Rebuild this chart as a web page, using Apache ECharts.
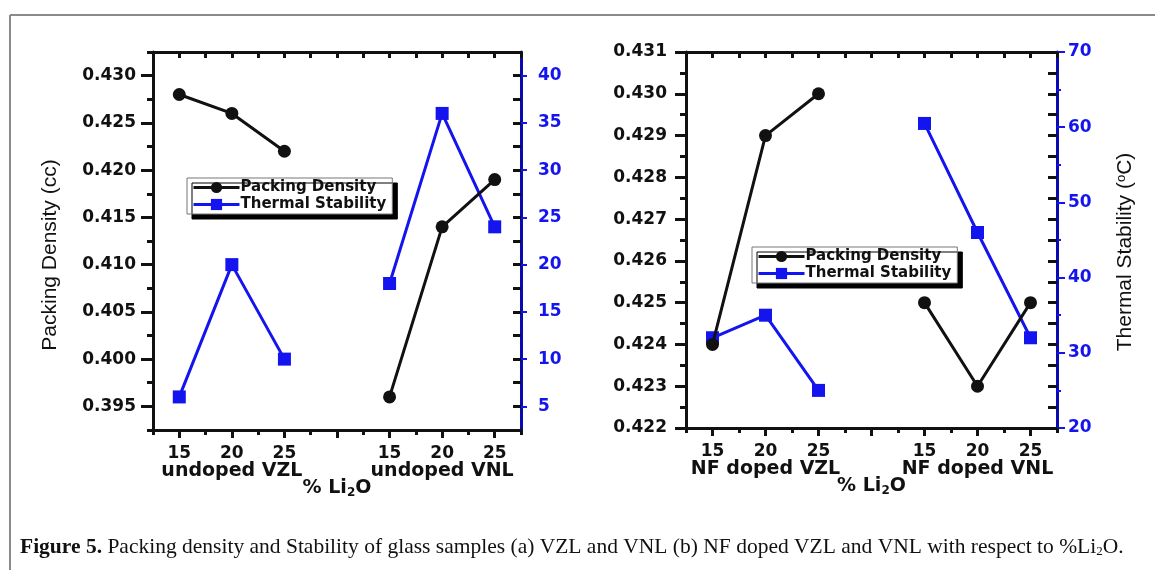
<!DOCTYPE html>
<html>
<head>
<meta charset="utf-8">
<script src="https://cdn.jsdelivr.net/npm/echarts@6/dist/echarts.min.js"></script>
<style>
html,body{margin:0;padding:0;background:#fff;}
#c{width:1155px;height:570px;}
</style>
</head>
<body>
<div id="c"></div>
<script>
// ---------- data ----------
const liContent = [15, 20, 25];                       // % Li2O tick labels per group
const leftGroups = ['undoped VZL', 'undoped VNL'];
const rightGroups = ['NF doped VZL', 'NF doped VNL'];
const seriesNames = ['Packing Density', 'Thermal Stability'];

const pdUndopedVZL = [0.428, 0.426, 0.422];
const pdUndopedVNL = [0.396, 0.414, 0.419];
const tsUndopedVZL = [6, 20, 10];
const tsUndopedVNL = [18, 36, 24];

const pdDopedVZL = [0.424, 0.429, 0.430];
const pdDopedVNL = [0.425, 0.423, 0.425];
const tsDopedVZL = [32, 35, 25];
const tsDopedVNL = [60.5, 46, 32];

const pdTicksLeft = [0.395, 0.400, 0.405, 0.410, 0.415, 0.420, 0.425, 0.430];
const tsTicksLeft = [5, 10, 15, 20, 25, 30, 35, 40];
const pdTicksRight = [0.422, 0.423, 0.424, 0.425, 0.426, 0.427, 0.428, 0.429, 0.430, 0.431];

// ---------- helpers ----------
const GROUP_SHIFT = 20; // second group drawn after a gap on the same value axis
function pairs(a, b) {
  const out = liContent.map((x, i) => [x, a[i]]);
  out.push([30, '-']);
  liContent.forEach((x, i) => out.push([x + GROUP_SHIFT, b[i]]));
  return out;
}
const BOLD = 'DejaVu Sans';
const BLACK = '#111';
const BLUE = '#1414ee';
const BLUE_AX = '#0a0ab4';

function xAxesFor(gridIndex, groups) {
  const majors = [15, 20, 25, 30, 35, 40, 45];
  const labelVals = liContent.concat(liContent.map(v => v + GROUP_SHIFT));
  const groupCenters = [liContent[1], liContent[1] + GROUP_SHIFT];
  return [
    { // main bottom axis: line, minor ticks, digit labels, axis name
      type: 'value', gridIndex, position: 'bottom', min: 12.5, max: 47.5, interval: 2.5,
      axisLine: { show: true, onZero: false, lineStyle: { color: BLACK, width: 3 } },
      axisTick: { show: true, length: 5, lineStyle: { color: BLACK, width: 3 } },
      splitLine: { show: false },
      axisLabel: {
        show: true, customValues: labelVals, margin: 15, color: BLACK,
        showMinLabel: true, showMaxLabel: true,
        fontFamily: BOLD, fontWeight: 'bold', fontSize: 17,
        formatter: function (v) {
          const r = Math.round(v);
          return String(r > 30 ? r - GROUP_SHIFT : r);
        }
      },
      name: '% Li{s|2}O', nameLocation: 'middle', nameGap: 47,
      nameTextStyle: {
        fontFamily: BOLD, fontWeight: 'bold', fontSize: 19, color: BLACK,
        rich: { s: { fontFamily: BOLD, fontWeight: 'bold', fontSize: 12, color: BLACK, padding: [10, 0, 0, 0] } }
      }
    },
    { // major tick overlay + group names
      type: 'value', gridIndex, position: 'bottom', min: 12.5, max: 47.5,
      axisLine: { show: false, onZero: false },
      axisTick: { show: true, customValues: majors, length: 8, lineStyle: { color: BLACK, width: 3 } },
      axisLabel: {
        show: true, customValues: groupCenters, margin: 32, color: BLACK,
        showMinLabel: true, showMaxLabel: true,
        fontFamily: BOLD, fontWeight: 'bold', fontSize: 19,
        formatter: function (v) { return Math.round(v) > 30 ? groups[1] : groups[0]; }
      },
      splitLine: { show: false }
    },
    { // top mirror
      type: 'value', gridIndex, position: 'top', min: 12.5, max: 47.5, interval: 2.5,
      axisLine: { show: true, onZero: false, lineStyle: { color: BLACK, width: 3 } },
      axisTick: { show: true, inside: true, length: 6, lineStyle: { color: BLACK, width: 3 } },
      axisLabel: { show: false }, splitLine: { show: false }
    }
  ];
}

const labelBold = { fontFamily: BOLD, fontWeight: 'bold', fontSize: 17, showMinLabel: true, showMaxLabel: true };

const yAxes = [
  // ----- left chart (grid 0) -----
  { type: 'value', gridIndex: 0, position: 'left', min: 0.3925, max: 0.4325, interval: 0.0025,
    axisLine: { show: true, onZero: false, lineStyle: { color: BLACK, width: 3 } },
    axisTick: { show: true, length: 6, lineStyle: { color: BLACK, width: 3 } },
    axisLabel: Object.assign({ customValues: pdTicksLeft, margin: 17, color: BLACK,
      formatter: v => v.toFixed(3) }, labelBold),
    splitLine: { show: false } },
  { type: 'value', gridIndex: 0, position: 'left', min: 0.3925, max: 0.4325,
    axisLine: { show: false, onZero: false },
    axisTick: { show: true, customValues: pdTicksLeft, length: 12, lineStyle: { color: BLACK, width: 3 } },
    axisLabel: { show: false }, splitLine: { show: false } },
  { type: 'value', gridIndex: 0, position: 'right', min: 2.5, max: 42.5,
    axisLine: { show: true, onZero: false, lineStyle: { color: BLUE_AX, width: 3 } },
    axisTick: { show: true, customValues: tsTicksLeft, length: 6, lineStyle: { color: BLUE, width: 2 } },
    axisLabel: Object.assign({ customValues: tsTicksLeft, margin: 17, color: BLUE }, labelBold),
    splitLine: { show: false } },
  { type: 'value', gridIndex: 0, position: 'right', min: 0.3925, max: 0.4325, interval: 0.0025,
    axisLine: { show: false, onZero: false },
    axisTick: { show: true, inside: true, length: 8, lineStyle: { color: BLACK, width: 3 } },
    axisLabel: { show: false }, splitLine: { show: false } },
  // ----- right chart (grid 1) -----
  { type: 'value', gridIndex: 1, position: 'left', min: 0.422, max: 0.431, interval: 0.0005,
    axisLine: { show: true, onZero: false, lineStyle: { color: BLACK, width: 3 } },
    axisTick: { show: true, length: 6, lineStyle: { color: BLACK, width: 3 } },
    axisLabel: Object.assign({ customValues: pdTicksRight, margin: 19, color: BLACK,
      formatter: v => v.toFixed(3) }, labelBold),
    splitLine: { show: false } },
  { type: 'value', gridIndex: 1, position: 'left', min: 0.422, max: 0.431,
    axisLine: { show: false, onZero: false },
    axisTick: { show: true, customValues: pdTicksRight, length: 11, lineStyle: { color: BLACK, width: 3 } },
    axisLabel: { show: false }, splitLine: { show: false } },
  { type: 'value', gridIndex: 1, position: 'right', min: 20, max: 70, interval: 10,
    axisLine: { show: true, onZero: false, lineStyle: { color: BLUE_AX, width: 3 } },
    axisTick: { show: true, length: 8, lineStyle: { color: BLUE, width: 2 } },
    minorTick: { show: true, splitNumber: 2, length: 4, lineStyle: { color: BLUE, width: 2 } },
    axisLabel: Object.assign({ margin: 11, color: BLUE }, labelBold),
    splitLine: { show: false } },
  { type: 'value', gridIndex: 1, position: 'right', min: 0.422, max: 0.431, interval: 0.0005,
    axisLine: { show: false, onZero: false },
    axisTick: { show: true, inside: true, length: 9, lineStyle: { color: BLACK, width: 3 } },
    axisLabel: { show: false }, splitLine: { show: false } }
];

function lineSeries(name, xIdx, yIdx, data, color, symbol) {
  return {
    name, type: 'line', xAxisIndex: xIdx, yAxisIndex: yIdx, data,
    symbol, symbolSize: 13, showSymbol: true, connectNulls: false,
    lineStyle: { color, width: 3 }, itemStyle: { color, borderWidth: 0 },
    emphasis: { disabled: true }, z: symbol === 'rect' ? 3 : 4
  };
}

const legendBase = {
  orient: 'vertical', itemWidth: 46, itemHeight: 14, itemGap: 2,
  backgroundColor: '#fff', borderColor: '#777', borderWidth: 1, padding: [2, 6, 2, 5],
  shadowColor: '#000', shadowBlur: 0, shadowOffsetX: 5, shadowOffsetY: 5,
  lineStyle: { width: 3 },
  textStyle: { fontFamily: BOLD, fontWeight: 'bold', fontSize: 15, color: BLACK, padding: [0, 0, 0, -4] },
  data: seriesNames
};

const option = {
  animation: false,
  backgroundColor: '#fff',
  grid: [
    { left: 153, top: 52, width: 368, height: 378 },
    { left: 686, top: 52, width: 371, height: 376 }
  ],
  xAxis: xAxesFor(0, leftGroups).concat(xAxesFor(1, rightGroups)),
  yAxis: yAxes,
  legend: [
    Object.assign({ left: 187, top: 178 }, legendBase),
    Object.assign({ left: 752, top: 247 }, legendBase)
  ],
  series: [
    lineSeries(seriesNames[0], 0, 0, pairs(pdUndopedVZL, pdUndopedVNL), BLACK, 'circle'),
    lineSeries(seriesNames[1], 0, 2, pairs(tsUndopedVZL, tsUndopedVNL), BLUE, 'rect'),
    lineSeries(seriesNames[0], 3, 4, pairs(pdDopedVZL, pdDopedVNL), BLACK, 'circle'),
    lineSeries(seriesNames[1], 3, 6, pairs(tsDopedVZL, tsDopedVNL), BLUE, 'rect')
  ],
  graphic: [
    { type: 'line', shape: { x1: 10, y1: 15, x2: 1155, y2: 15 }, style: { stroke: '#8a8a8a', lineWidth: 2 }, silent: true },
    { type: 'line', shape: { x1: 10, y1: 15, x2: 10, y2: 570 }, style: { stroke: '#8a8a8a', lineWidth: 2 }, silent: true },
    { type: 'text', x: 50, y: 255, rotation: Math.PI / 2, silent: true,
      style: { text: 'Packing Density (cc)', align: 'center', verticalAlign: 'middle',
        font: '21px "Liberation Sans", Arial, sans-serif', fill: BLACK } },
    { type: 'text', x: 1125, y: 252, rotation: Math.PI / 2, silent: true,
      style: { text: 'Thermal Stability ({sup|o}C)', align: 'center', verticalAlign: 'middle',
        font: '21px "Liberation Sans", Arial, sans-serif', fill: BLACK,
        rich: { sup: { font: '13px "Liberation Sans", Arial, sans-serif', fill: BLACK, padding: [0, 0, 8, 0] } } } },
    { type: 'text', x: 20, y: 547, silent: true,
      style: { text: '{b|Figure 5.} Packing density and Stability of glass samples (a) VZL and VNL (b) NF doped VZL and VNL with respect to %Li{s|2}O.',
        align: 'left', verticalAlign: 'middle',
        font: '21.5px "Liberation Serif", "Times New Roman", serif', fill: BLACK,
        rich: {
          b: { font: 'bold 21.5px "Liberation Serif", "Times New Roman", serif', fill: BLACK },
          s: { font: '13px "Liberation Serif", "Times New Roman", serif', fill: BLACK, padding: [9, 0, 0, 0] }
        } } }
  ]
};

const chart = echarts.init(document.getElementById('c'), null, { renderer: 'canvas' });
chart.setOption(option);
</script>
</body>
</html>
